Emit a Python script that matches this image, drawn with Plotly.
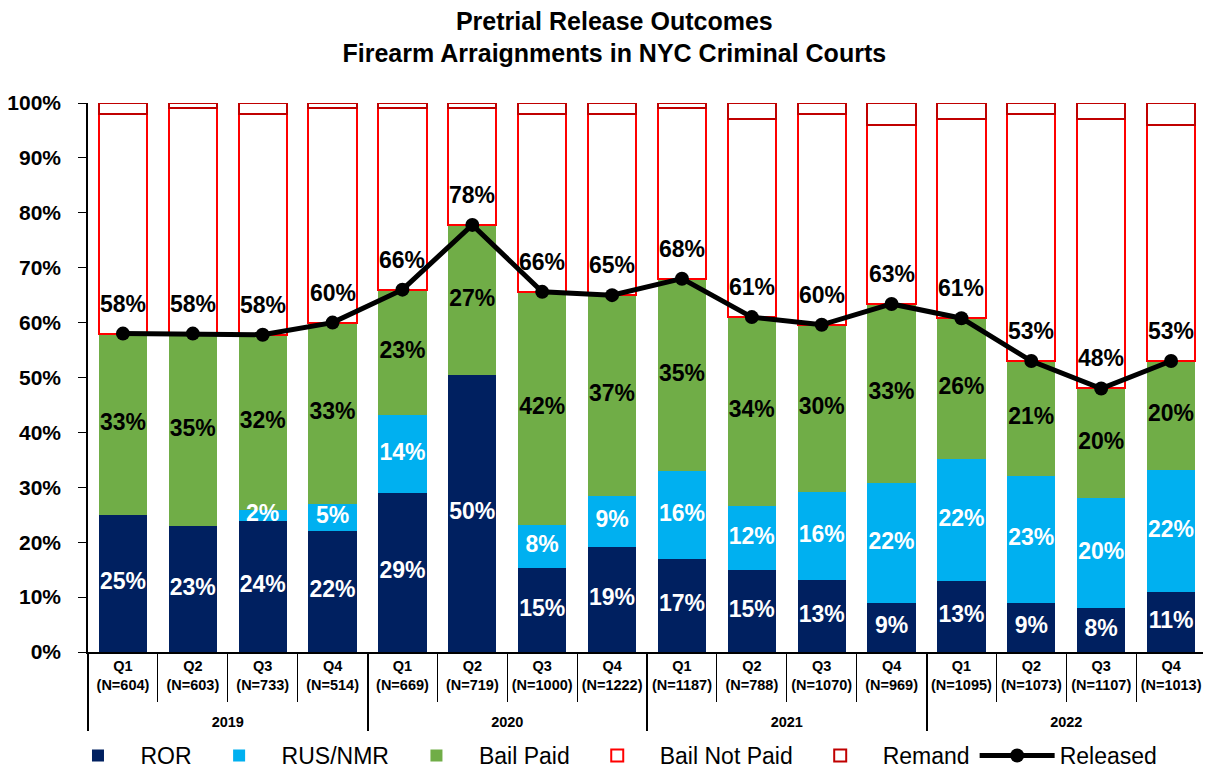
import plotly.graph_objects as go

years = ["2019"] * 4 + ["2020"] * 4 + ["2021"] * 4 + ["2022"] * 4
quarters = ["Q1<br>(N=604)", "Q2<br>(N=603)", "Q3<br>(N=733)", "Q4<br>(N=514)",
            "Q1<br>(N=669)", "Q2<br>(N=719)", "Q3<br>(N=1000)", "Q4<br>(N=1222)",
            "Q1<br>(N=1187)", "Q2<br>(N=788)", "Q3<br>(N=1070)", "Q4<br>(N=969)",
            "Q1<br>(N=1095)", "Q2<br>(N=1073)", "Q3<br>(N=1107)", "Q4<br>(N=1013)"]

ror = [25.0, 22.9, 23.9, 22.0, 29.0, 50.4, 15.3, 19.1, 16.9, 14.9, 13.1, 8.9, 12.9, 8.9, 8.0, 10.9]
rus_nmr = [0.0, 0.0, 2.0, 5.0, 14.2, 0.0, 7.9, 9.3, 16.1, 11.7, 16.1, 21.9, 22.3, 23.2, 20.1, 22.3]
bail_paid = [33.0, 35.1, 31.9, 33.0, 22.8, 27.4, 42.4, 36.6, 35.0, 34.4, 30.4, 32.6, 25.6, 20.9, 19.9, 19.8]
remand = [2, 1, 2, 1, 1, 1, 2, 2, 1, 3, 2, 4, 3, 2, 3, 4]

released = [r + s + b for r, s, b in zip(ror, rus_nmr, bail_paid)]
bail_not_paid = [100 - rel - rm for rel, rm in zip(released, remand)]

year_lbl = [f"<br><b>{y}</b>" for y in years]
qtr_lbl = [f"<b>{q}</b>".replace("<br>", "</b><br><b>") for q in quarters]
x = [year_lbl, qtr_lbl]
FONT = "Liberation Sans, Arial, sans-serif"

fig = go.Figure()
fig.add_bar(x=x, y=ror, name="ROR", marker=dict(color="#002060", line=dict(width=0)))
fig.add_bar(x=x, y=rus_nmr, name="RUS/NMR", marker=dict(color="#00B0F0", line=dict(width=0)))
fig.add_bar(x=x, y=bail_paid, name="Bail Paid", marker=dict(color="#70AD47", line=dict(width=0)))
fig.add_bar(x=x, y=bail_not_paid, name="Bail Not Paid",
            marker=dict(color="white", line=dict(color="#FF0000", width=2)))
fig.add_bar(x=x, y=remand, name="Remand",
            marker=dict(color="white", line=dict(color="#C00000", width=2)))
fig.add_scatter(x=x, y=released, name="Released", mode="lines+markers",
                line=dict(color="black", width=5), marker=dict(color="black", size=14))

def seg_labels(vals, base, color):
    xs0, xs1, ys, ts = [], [], [], []
    for i, v in enumerate(vals):
        if v > 0:
            xs0.append(year_lbl[i]); xs1.append(qtr_lbl[i])
            ys.append(base[i] + v / 2)
            ts.append(f"<b>{round(v)}%</b>")
    fig.add_scatter(x=[xs0, xs1], y=ys, text=ts, mode="text", showlegend=False,
                    textfont=dict(color=color, size=23, family=FONT), hoverinfo="skip")

zeros = [0] * 16
seg_labels(ror, zeros, "white")
seg_labels(rus_nmr, ror, "white")
seg_labels(bail_paid, [a + b for a, b in zip(ror, rus_nmr)], "black")

for i, rel in enumerate(released):
    fig.add_annotation(x=[year_lbl[i], qtr_lbl[i]], y=rel, text=f"<b>{round(rel)}%</b>", showarrow=False,
                       yshift=30, font=dict(color="black", size=23, family=FONT))

fig.update_layout(
    barmode="stack", bargap=0.31,
    width=1203, height=769,
    paper_bgcolor="white", plot_bgcolor="white",
    margin=dict(l=80, r=5, t=95, b=125, autoexpand=False),
    font=dict(family=FONT, color="black"),
    title=dict(text="<b>Pretrial Release Outcomes<br>Firearm Arraignments in NYC Criminal Courts</b>",
               x=0.504, xanchor="center", y=0.972, yanchor="top",
               font=dict(size=25, family=FONT, color="black")),
    legend=dict(orientation="h", x=0.466, xanchor="center", yref="container", y=0.0, yanchor="bottom",
                font=dict(size=23, family=FONT), traceorder="normal", itemwidth=75),
)
fig.update_yaxes(range=[0, 100], tickvals=[0, 10, 20, 30, 40, 50, 60, 70, 80, 90, 100],
                 ticktext=[f"<b>{v}%</b>" for v in range(0, 101, 10)],
                 showgrid=False, zeroline=False, showline=True, linecolor="black", linewidth=1.5,
                 ticks="outside", ticklen=8, tickcolor="black", ticklabelstandoff=13,
                 tickfont=dict(size=21, family=FONT, color="black"))
fig.update_xaxes(type="multicategory", range=[-0.5, 15.5], showline=True, linecolor="black", linewidth=1.5,
                 ticks="outside", tickson="boundaries", ticklen=48, tickcolor="black", tickangle=0,
                 showdividers=True, dividercolor="black", dividerwidth=1.5,
                 tickfont=dict(size=14.5, family=FONT, color="black"), showgrid=False)

fig.write_html("out.html")
